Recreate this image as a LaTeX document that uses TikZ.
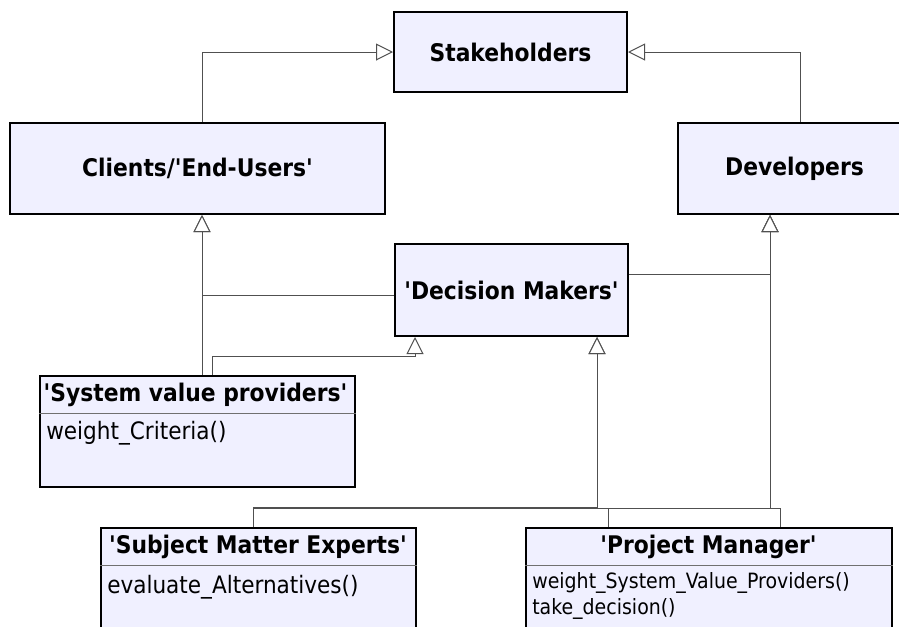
\documentclass[tikz,border=0pt]{standalone}
\usepackage{fontspec}
\setmainfont{DejaVu Sans Condensed}
\usetikzlibrary{arrows.meta}
\definecolor{boxfill}{HTML}{F0F0FF}
\definecolor{linecol}{HTML}{505050}
\definecolor{divcol}{HTML}{707070}
\newcommand{\sq}{\textquotesingle}
\begin{document}
\begin{tikzpicture}[x=0.75pt,y=-0.75pt,
  box/.style={draw=black, line width=1.5pt, fill=boxfill, inner sep=0pt,
    font=\bfseries\fontsize{18.2}{21}\selectfont},
  ctitle/.style={font=\bfseries\fontsize{18.2}{21}\selectfont, inner sep=0pt},
  method/.style={font=\fontsize{18}{21}\selectfont, inner sep=0pt, anchor=west},
  smallmethod/.style={font=\fontsize{15.8}{19}\selectfont, inner sep=0pt, anchor=west},
  conn/.style={draw=linecol, line width=0.75pt},
  gen/.style={conn, -{Triangle[fill=white, length=12.75pt, width=12.75pt]}},
  divider/.style={draw=divcol, line width=0.75pt}]
\useasboundingbox (0,0) rectangle (899,626);
\clip (0,0) rectangle (899,626);

% simple boxes
\node[box, minimum width=174.75pt, minimum height=60pt] (stake) at (510.5,52) {Stakeholders};
\node[box, minimum width=281.25pt, minimum height=68.25pt] (clients) at (197.5,168.5) {Clients/\sq End-Users\sq};
\node[box, minimum width=174.75pt, minimum height=68.25pt] (dev) at (794.5,168.5) {Developers};
\node[box, minimum width=174.75pt, minimum height=69pt] (dm) at (511.5,290) {\sq Decision Makers\sq};

% class boxes
\node[box, minimum width=236.25pt, minimum height=83.25pt] (svp) at (197.5,431.5) {};
\node[box, minimum width=236.25pt, minimum height=83.25pt] (sme) at (258.5,583.5) {};
\node[box, minimum width=274.5pt, minimum height=83.25pt] (pm) at (709,583.5) {};

\coordinate (ysvp) at (0,413);
\coordinate (ycls) at (0,565);
\draw[divider] (svp.west |- ysvp) -- (svp.east |- ysvp);
\draw[divider] (sme.west |- ycls) -- (sme.east |- ycls);
\draw[divider] (pm.west |- ycls) -- (pm.east |- ycls);

\node[ctitle] (svpt) at (195.5,395) {\sq System value providers\sq};
\node[method] (svpm) at (46,433) {weight\_Criteria()};
\node[ctitle] (smet) at (258,547) {\sq Subject Matter Experts\sq};
\node[method] (smem) at (107,587) {evaluate\_Alternatives()};
\node[ctitle] (pmt) at (708.5,547) {\sq Project Manager\sq};
\node[smallmethod] (pmm1) at (532,583) {weight\_System\_Value\_Providers()};
\node[smallmethod] (pmm2) at (532,609) {take\_decision()};

% helper coordinates
\coordinate (xc) at (202,0);
\coordinate (xd) at (800,0);
\coordinate (xs2) at (212,0);
\coordinate (xa1) at (415,0);
\coordinate (xa2) at (597,0);
\coordinate (xdv) at (770,0);
\coordinate (xsme) at (253,0);
\coordinate (xpm1) at (608,0);
\coordinate (xpm2) at (780,0);
\coordinate (y356) at (0,356);
\coordinate (y507) at (0,507);
\coordinate (y508) at (0,508);

% connectors
\draw[gen] (clients.north -| xc) |- (stake.west);
\draw[gen] (dev.north -| xd) |- (stake.east);
\draw[gen] ([yshift=-3.75pt]dm.west) -| (clients.south -| xc);
\draw[gen] ([yshift=12pt]dm.east) -| (dev.south -| xdv);
\draw[gen] (svp.north -| xc) -- (clients.south -| xc);
\draw[gen] (svp.north -| xs2) -- (xs2 |- y356) -| (dm.south -| xa1);
\draw[gen] (sme.north -| xsme) -- (xsme |- y507) -| (dm.south -| xa2);
\draw[gen] (sme.north -| xsme) -- (xsme |- y508) -| (dev.south -| xdv);
\draw[gen] (pm.north -| xpm1) -- (xpm1 |- y508) -| (dm.south -| xa2);
\draw[gen] (pm.north -| xpm2) -- (xpm2 |- y508) -| (dev.south -| xdv);
\end{tikzpicture}
\end{document}
